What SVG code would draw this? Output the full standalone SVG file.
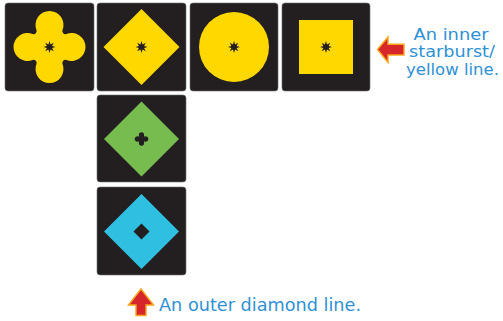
<svg xmlns="http://www.w3.org/2000/svg" width="503" height="321" viewBox="0 0 503 321">
<style>
.tile{fill:#231f20;stroke:#6d6e71;stroke-width:0.6}
.yel{fill:#ffd800}
.dark{fill:#231f20}
.lbl{font-family:"DejaVu Sans",sans-serif;fill:#2f91d3}
.arrow{fill:#d7262b;stroke:#f9a51a;stroke-width:1.4;stroke-linejoin:miter}
</style>
<defs>
<path id="flower" d="M-13.05,-16.93 A14,14 0 1 1 13.05,-16.93 A3,3 0 0 0 16.93,-13.05 A14,14 0 1 1 16.93,13.05 A3,3 0 0 0 13.05,16.93 A14,14 0 1 1 -13.05,16.93 A3,3 0 0 0 -16.93,13.05 A14,14 0 1 1 -16.93,-13.05 A3,3 0 0 0 -13.05,-16.93 Z"/>
<polygon id="star" points="0,-6 1.07,-2.59 4.24,-4.24 2.59,-1.07 6,0 2.59,1.07 4.24,4.24 1.07,2.59 0,6 -1.07,2.59 -4.24,4.24 -2.59,1.07 -6,0 -2.59,-1.07 -4.24,-4.24 -1.07,-2.59"/>
</defs>
<g id="tile-flower">
<rect class="tile" x="5" y="3" width="89" height="88" rx="3"/>
<use href="#flower" class="yel" transform="translate(49.5,47)"/>
<use href="#star" class="dark" transform="translate(49.5,47)"/>
</g>
<g id="tile-diamond">
<rect class="tile" x="97" y="3" width="89" height="88" rx="3"/>
<polygon class="yel" points="141.5,9 179.5,47 141.5,85 103.5,47"/>
<use href="#star" class="dark" transform="translate(141.5,47)"/>
</g>
<g id="tile-circle">
<rect class="tile" x="190" y="3" width="88" height="88" rx="3"/>
<circle class="yel" cx="234" cy="47" r="35"/>
<use href="#star" class="dark" transform="translate(234,47)"/>
</g>
<g id="tile-square">
<rect class="tile" x="282" y="3" width="88" height="88" rx="3"/>
<rect class="yel" x="299" y="20" width="54" height="54"/>
<use href="#star" class="dark" transform="translate(326,47)"/>
</g>
<g id="tile-green">
<rect class="tile" x="97" y="95" width="89" height="87" rx="3"/>
<polygon fill="#77bc4e" points="141.5,101.5 179,139 141.5,176.5 104,139"/>
<use href="#flower" class="dark" transform="translate(141.5,139) scale(0.19)"/>
</g>
<g id="tile-cyan">
<rect class="tile" x="97" y="187" width="89" height="88" rx="3"/>
<polygon fill="#2fc0e1" points="141.5,194 179,231.5 141.5,269 104,231.5"/>
<polygon class="dark" points="141.5,223.5 149.5,231.5 141.5,239.5 133.5,231.5"/>
</g>
<g id="callouts">
<polygon class="arrow" points="377.5,49.5 388,37 388,44.3 404,44.3 404,55 388,55 388,62.5"/>
<polygon class="arrow" points="141,289 153.5,305 146,305 146,315.5 136,315.5 136,305 128.5,305"/>
<text class="lbl" font-size="15" text-anchor="middle"><tspan x="451" y="39.5" textLength="75" lengthAdjust="spacingAndGlyphs">An inner</tspan><tspan x="452" y="57" textLength="86" lengthAdjust="spacingAndGlyphs">starburst/</tspan><tspan x="452.5" y="74.5" textLength="93" lengthAdjust="spacingAndGlyphs">yellow line.</tspan></text>
<text class="lbl" font-size="18.5" x="159" y="311" textLength="202" lengthAdjust="spacingAndGlyphs">An outer diamond line.</text>
</g>
</svg>
